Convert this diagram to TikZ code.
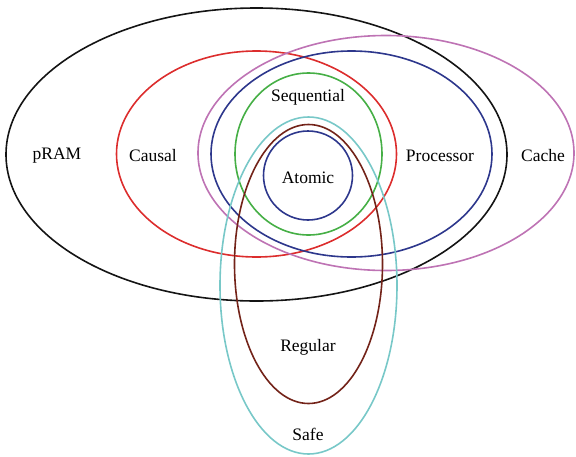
\documentclass[tikz,border=0pt]{standalone}
\usepackage{fontspec}
\setmainfont{Liberation Serif}
\usepackage{tikz}
\usetikzlibrary{positioning}

\definecolor{pramcol}{RGB}{20,20,20}
\definecolor{causalcol}{RGB}{220,45,45}
\definecolor{cachecol}{RGB}{190,115,180}
\definecolor{proccol}{RGB}{45,55,140}
\definecolor{seqcol}{RGB}{70,175,70}
\definecolor{regcol}{RGB}{115,35,25}
\definecolor{safecol}{RGB}{120,200,200}

\tikzset{
  model/.style={line width=1.6pt},
  lbl/.style={font=\fontsize{17.5}{20}\selectfont, inner sep=1pt}
}

\begin{document}
\begin{tikzpicture}[x=1pt,y=-1pt]
\useasboundingbox (0,0) rectangle (576,456);
\draw[model,pramcol] (256.5,154.5) ellipse (250.5 and 146.5);
\draw[model,causalcol] (256.5,154) ellipse (140 and 103);
\draw[model,cachecol] (386,153) ellipse (188 and 117.5);
\draw[model,proccol] (351.5,154) ellipse (140.5 and 103);
\draw[model,seqcol] (308.5,154) ellipse (73.5 and 81);
\draw[model,proccol] (308,175.5) ellipse (44.5 and 44.5);
\draw[model,regcol] (308.5,264) ellipse (74 and 139.5);
\draw[model,safecol] (308.5,285.5) ellipse (88.5 and 168.5);

\node[lbl] at (57,156) (pram) {pRAM};
\node[lbl] at (153,156) (causal) {Causal};
\node[lbl] at (308,97) (seq) {Sequential};
\node[lbl] at (308,178) (atomic) {Atomic};
\node[lbl] at (440,156) (proc) {Processor};
\node[lbl] at (543,156) (cache) {Cache};
\node[lbl] at (308,347) (regular) {Regular};
\node[lbl] at (308,434) (safe) {Safe};
\end{tikzpicture}
\end{document}
